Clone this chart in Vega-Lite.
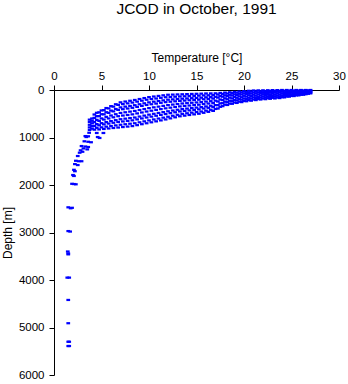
{
"$schema":"https://vega.github.io/schema/vega-lite/v6.json",
"width":285,"height":285,
"autosize":{"type":"none"},
"padding":{"left":54,"top":90,"right":9,"bottom":9},
"background":"white",
"title":{"text":"JCOD in October, 1991","font":"Liberation Sans","fontSize":15.5,"fontWeight":"normal","color":"black","anchor":"middle","offset":34},
"config":{"view":{"stroke":null},"axis":{"grid":false,"domainColor":"black","tickColor":"black","labelColor":"black","titleColor":"black","labelFont":"Liberation Sans","titleFont":"Liberation Sans","titleFontWeight":"normal","labelFontSize":11.5,"titleFontSize":12,"tickSize":5,"domainWidth":1,"tickWidth":1}},
"data":{"values":[
{"temp":27,"depth":0},{"temp":26.5,"depth":0},{"temp":26,"depth":0},{"temp":25.5,"depth":0},{"temp":25,"depth":0},{"temp":24.5,"depth":0},{"temp":24,"depth":0},{"temp":23.5,"depth":2},{"temp":23,"depth":3},{"temp":22.5,"depth":5},{"temp":22,"depth":7},{"temp":21.5,"depth":8},{"temp":21,"depth":10},{"temp":20.5,"depth":17},{"temp":20,"depth":25},{"temp":19.5,"depth":32},{"temp":19,"depth":40},{"temp":18.5,"depth":48},{"temp":18,"depth":55},{"temp":17.5,"depth":62},{"temp":17,"depth":70},{"temp":16.5,"depth":72},{"temp":16,"depth":73},{"temp":15.5,"depth":77},{"temp":15,"depth":80},{"temp":14.5,"depth":83},{"temp":14,"depth":87},{"temp":13.5,"depth":90},{"temp":13,"depth":93},{"temp":12.5,"depth":97},{"temp":12,"depth":100},{"temp":11.5,"depth":112},{"temp":11,"depth":125},{"temp":10.5,"depth":137},{"temp":10,"depth":150},{"temp":9.5,"depth":170},{"temp":9,"depth":190},{"temp":8.5,"depth":210},{"temp":8,"depth":227},{"temp":7.5,"depth":243},{"temp":7,"depth":260},{"temp":6.5,"depth":300},{"temp":6,"depth":340},{"temp":5.5,"depth":380},{"temp":5,"depth":430},{"temp":4.5,"depth":480},{"temp":4,"depth":600},
{"temp":26.75,"depth":8},{"temp":26.25,"depth":10},{"temp":25.75,"depth":11},{"temp":25.25,"depth":13},{"temp":24.75,"depth":14},{"temp":24.25,"depth":16},{"temp":23.75,"depth":17},{"temp":23.25,"depth":20},{"temp":22.75,"depth":21},{"temp":22.25,"depth":24},{"temp":21.75,"depth":26},{"temp":21.25,"depth":28},{"temp":20.75,"depth":32},{"temp":20.25,"depth":39},{"temp":19.75,"depth":48},{"temp":19.25,"depth":56},{"temp":18.75,"depth":65},{"temp":18.25,"depth":75},{"temp":17.75,"depth":83},{"temp":17.25,"depth":95},{"temp":16.75,"depth":107},{"temp":16.25,"depth":111},{"temp":15.75,"depth":114},{"temp":15.25,"depth":119},{"temp":14.75,"depth":123},{"temp":14.25,"depth":127},{"temp":13.75,"depth":132},{"temp":13.25,"depth":136},{"temp":12.75,"depth":141},{"temp":12.25,"depth":147},{"temp":11.75,"depth":152},{"temp":11.25,"depth":165},{"temp":10.75,"depth":179},{"temp":10.25,"depth":191},{"temp":9.75,"depth":205},{"temp":9.25,"depth":225},{"temp":8.75,"depth":245},{"temp":8.25,"depth":265},{"temp":7.75,"depth":281},{"temp":7.25,"depth":297},{"temp":6.75,"depth":313},{"temp":6.25,"depth":350},{"temp":5.75,"depth":387},{"temp":5.25,"depth":424},{"temp":4.75,"depth":470},{"temp":4.25,"depth":516},{"temp":3.75,"depth":624},
{"temp":27,"depth":16},{"temp":26.5,"depth":20},{"temp":26,"depth":23},{"temp":25.5,"depth":25},{"temp":25,"depth":28},{"temp":24.5,"depth":31},{"temp":24,"depth":34},{"temp":23.5,"depth":37},{"temp":23,"depth":39},{"temp":22.5,"depth":43},{"temp":22,"depth":46},{"temp":21.5,"depth":49},{"temp":21,"depth":53},{"temp":20.5,"depth":61},{"temp":20,"depth":71},{"temp":19.5,"depth":80},{"temp":19,"depth":90},{"temp":18.5,"depth":101},{"temp":18,"depth":112},{"temp":17.5,"depth":128},{"temp":17,"depth":144},{"temp":16.5,"depth":150},{"temp":16,"depth":154},{"temp":15.5,"depth":162},{"temp":15,"depth":167},{"temp":14.5,"depth":172},{"temp":14,"depth":178},{"temp":13.5,"depth":183},{"temp":13,"depth":189},{"temp":12.5,"depth":197},{"temp":12,"depth":204},{"temp":11.5,"depth":218},{"temp":11,"depth":232},{"temp":10.5,"depth":246},{"temp":10,"depth":260},{"temp":9.5,"depth":280},{"temp":9,"depth":300},{"temp":8.5,"depth":320},{"temp":8,"depth":336},{"temp":7.5,"depth":350},{"temp":7,"depth":366},{"temp":6.5,"depth":400},{"temp":6,"depth":434},{"temp":5.5,"depth":468},{"temp":5,"depth":510},{"temp":4.5,"depth":551},{"temp":4,"depth":648},
{"temp":26.75,"depth":24},{"temp":26.25,"depth":30},{"temp":25.75,"depth":34},{"temp":25.25,"depth":38},{"temp":24.75,"depth":42},{"temp":24.25,"depth":47},{"temp":23.75,"depth":51},{"temp":23.25,"depth":55},{"temp":22.75,"depth":58},{"temp":22.25,"depth":61},{"temp":21.75,"depth":65},{"temp":21.25,"depth":69},{"temp":20.75,"depth":75},{"temp":20.25,"depth":83},{"temp":19.75,"depth":94},{"temp":19.25,"depth":104},{"temp":18.75,"depth":115},{"temp":18.25,"depth":128},{"temp":17.75,"depth":141},{"temp":17.25,"depth":160},{"temp":16.75,"depth":181},{"temp":16.25,"depth":188},{"temp":15.75,"depth":195},{"temp":15.25,"depth":204},{"temp":14.75,"depth":210},{"temp":14.25,"depth":216},{"temp":13.75,"depth":223},{"temp":13.25,"depth":229},{"temp":12.75,"depth":238},{"temp":12.25,"depth":247},{"temp":11.75,"depth":256},{"temp":11.25,"depth":270},{"temp":10.75,"depth":286},{"temp":10.25,"depth":300},{"temp":9.75,"depth":315},{"temp":9.25,"depth":335},{"temp":8.75,"depth":355},{"temp":8.25,"depth":375},{"temp":7.75,"depth":390},{"temp":7.25,"depth":404},{"temp":6.75,"depth":419},{"temp":6.25,"depth":450},{"temp":5.75,"depth":481},{"temp":5.25,"depth":512},{"temp":4.75,"depth":550},{"temp":4.25,"depth":587},{"temp":3.75,"depth":672},
{"temp":27,"depth":34},{"temp":26.5,"depth":42},{"temp":26,"depth":47},{"temp":25.5,"depth":53},{"temp":25,"depth":59},{"temp":24.5,"depth":65},{"temp":24,"depth":71},{"temp":23.5,"depth":76},{"temp":23,"depth":79},{"temp":22.5,"depth":84},{"temp":22,"depth":88},{"temp":21.5,"depth":94},{"temp":21,"depth":100},{"temp":20.5,"depth":109},{"temp":20,"depth":122},{"temp":19.5,"depth":133},{"temp":19,"depth":145},{"temp":18.5,"depth":160},{"temp":18,"depth":175},{"temp":17.5,"depth":200},{"temp":17,"depth":225},{"temp":16.5,"depth":235},{"temp":16,"depth":244},{"temp":15.5,"depth":255},{"temp":15,"depth":262},{"temp":14.5,"depth":269},{"temp":14,"depth":277},{"temp":13.5,"depth":284},{"temp":13,"depth":295},{"temp":12.5,"depth":307},{"temp":12,"depth":318},{"temp":11.5,"depth":334},{"temp":11,"depth":350},{"temp":10.5,"depth":365},{"temp":10,"depth":381},{"temp":9.5,"depth":401},{"temp":9,"depth":421},{"temp":8.5,"depth":441},{"temp":8,"depth":455},{"temp":7.5,"depth":469},{"temp":7,"depth":483},{"temp":6.5,"depth":510},{"temp":6,"depth":537},{"temp":5.5,"depth":565},{"temp":5,"depth":598},{"temp":4.5,"depth":629},{"temp":4,"depth":701},
{"temp":26.75,"depth":44},{"temp":26.25,"depth":55},{"temp":25.75,"depth":62},{"temp":25.25,"depth":70},{"temp":24.75,"depth":77},{"temp":24.25,"depth":85},{"temp":23.75,"depth":94},{"temp":23.25,"depth":99},{"temp":22.75,"depth":103},{"temp":22.25,"depth":108},{"temp":21.75,"depth":113},{"temp":21.25,"depth":120},{"temp":20.75,"depth":128},{"temp":20.25,"depth":138},{"temp":19.75,"depth":152},{"temp":19.25,"depth":164},{"temp":18.75,"depth":178},{"temp":18.25,"depth":195},{"temp":17.75,"depth":212},{"temp":17.25,"depth":242},{"temp":16.75,"depth":274},{"temp":16.25,"depth":285},{"temp":15.75,"depth":297},{"temp":15.25,"depth":310},{"temp":14.75,"depth":318},{"temp":14.25,"depth":327},{"temp":13.75,"depth":336},{"temp":13.25,"depth":345},{"temp":12.75,"depth":358},{"temp":12.25,"depth":372},{"temp":11.75,"depth":386},{"temp":11.25,"depth":402},{"temp":10.75,"depth":419},{"temp":10.25,"depth":436},{"temp":9.75,"depth":453},{"temp":9.25,"depth":473},{"temp":8.75,"depth":493},{"temp":8.25,"depth":513},{"temp":7.75,"depth":526},{"temp":7.25,"depth":538},{"temp":6.75,"depth":552},{"temp":6.25,"depth":575},{"temp":5.75,"depth":599},{"temp":5.25,"depth":622},{"temp":4.75,"depth":650},{"temp":4.25,"depth":675},{"temp":3.75,"depth":732},
{"temp":27,"depth":54},{"temp":26.5,"depth":67},{"temp":26,"depth":76},{"temp":25.5,"depth":85},{"temp":25,"depth":94},{"temp":24.5,"depth":104},{"temp":24,"depth":114},{"temp":23.5,"depth":120},{"temp":23,"depth":125},{"temp":22.5,"depth":131},{"temp":22,"depth":136},{"temp":21.5,"depth":145},{"temp":21,"depth":154},{"temp":20.5,"depth":164},{"temp":20,"depth":179},{"temp":19.5,"depth":193},{"temp":19,"depth":208},{"temp":18.5,"depth":227},{"temp":18,"depth":246},{"temp":17.5,"depth":282},{"temp":17,"depth":318},{"temp":16.5,"depth":332},{"temp":16,"depth":346},{"temp":15.5,"depth":360},{"temp":15,"depth":370},{"temp":14.5,"depth":380},{"temp":14,"depth":391},{"temp":13.5,"depth":400},{"temp":13,"depth":416},{"temp":12.5,"depth":432},{"temp":12,"depth":448},{"temp":11.5,"depth":466},{"temp":11,"depth":483},{"temp":10.5,"depth":501},{"temp":10,"depth":519},{"temp":9.5,"depth":539},{"temp":9,"depth":559},{"temp":8.5,"depth":579},{"temp":8,"depth":591},{"temp":7.5,"depth":603},{"temp":7,"depth":615},{"temp":6.5,"depth":635},{"temp":6,"depth":655},{"temp":5.5,"depth":675},{"temp":5,"depth":698},{"temp":4.5,"depth":718},{"temp":4,"depth":761},
{"temp":26.75,"depth":62},{"temp":26.25,"depth":78},{"temp":25.75,"depth":88},{"temp":25.25,"depth":99},{"temp":24.75,"depth":109},{"temp":24.25,"depth":121},{"temp":23.75,"depth":133},{"temp":23.25,"depth":139},{"temp":22.75,"depth":145},{"temp":22.25,"depth":152},{"temp":21.75,"depth":158},{"temp":21.25,"depth":167},{"temp":20.75,"depth":178},{"temp":20.25,"depth":189},{"temp":19.75,"depth":204},{"temp":19.25,"depth":219},{"temp":18.75,"depth":235},{"temp":18.25,"depth":256},{"temp":17.75,"depth":277},{"temp":17.25,"depth":318},{"temp":16.75,"depth":359},{"temp":16.25,"depth":375},{"temp":15.75,"depth":390},{"temp":15.25,"depth":407},{"temp":14.75,"depth":418},{"temp":14.25,"depth":429},{"temp":13.75,"depth":440},{"temp":13.25,"depth":451},{"temp":12.75,"depth":469},{"temp":12.25,"depth":487},{"temp":11.75,"depth":506},{"temp":11.25,"depth":524},{"temp":10.75,"depth":542},{"temp":10.25,"depth":561},{"temp":9.75,"depth":579},{"temp":9.25,"depth":599},{"temp":8.75,"depth":619},{"temp":8.25,"depth":639},{"temp":7.75,"depth":651},{"temp":7.25,"depth":662},{"temp":6.75,"depth":673},{"temp":6.25,"depth":690},{"temp":5.75,"depth":707},{"temp":5.25,"depth":723},{"temp":4.75,"depth":742},{"temp":4.25,"depth":757},{"temp":3.75,"depth":787},
{"temp":27,"depth":71},{"temp":26.5,"depth":89},{"temp":26,"depth":101},{"temp":25.5,"depth":113},{"temp":25,"depth":125},{"temp":24.5,"depth":138},{"temp":24,"depth":151},{"temp":23.5,"depth":159},{"temp":23,"depth":165},{"temp":22.5,"depth":172},{"temp":22,"depth":179},{"temp":21.5,"depth":190},{"temp":21,"depth":201},{"temp":20.5,"depth":213},{"temp":20,"depth":230},{"temp":19.5,"depth":246},{"temp":19,"depth":263},{"temp":18.5,"depth":286},{"temp":18,"depth":309},{"temp":17.5,"depth":354},{"temp":17,"depth":399},{"temp":16.5,"depth":417},{"temp":16,"depth":435},{"temp":15.5,"depth":453},{"temp":15,"depth":465},{"temp":14.5,"depth":477},{"temp":14,"depth":490},{"temp":13.5,"depth":502},{"temp":13,"depth":522},{"temp":12.5,"depth":542},{"temp":12,"depth":563},{"temp":11.5,"depth":582},{"temp":11,"depth":601},{"temp":10.5,"depth":620},{"temp":10,"depth":640},{"temp":9.5,"depth":660},{"temp":9,"depth":680},{"temp":8.5,"depth":700},{"temp":8,"depth":710},{"temp":7.5,"depth":721},{"temp":7,"depth":732},{"temp":6.5,"depth":745},{"temp":6,"depth":758},{"temp":5.5,"depth":772},{"temp":5,"depth":786},{"temp":4.5,"depth":796},{"temp":4,"depth":814},
{"temp":26.75,"depth":80},{"temp":26.25,"depth":100},{"temp":25.75,"depth":113},{"temp":25.25,"depth":127},{"temp":24.75,"depth":140},{"temp":24.25,"depth":155},{"temp":23.75,"depth":170},{"temp":23.25,"depth":178},{"temp":22.75,"depth":185},{"temp":22.25,"depth":193},{"temp":21.75,"depth":200},{"temp":21.25,"depth":212},{"temp":20.75,"depth":225},{"temp":20.25,"depth":237},{"temp":19.75,"depth":255},{"temp":19.25,"depth":272},{"temp":18.75,"depth":290},{"temp":18.25,"depth":315},{"temp":17.75,"depth":340},{"temp":17.25,"depth":390},{"temp":16.75,"depth":440},{"temp":16.25,"depth":460},{"temp":15.75,"depth":480},{"temp":15.25,"depth":500},{"temp":14.75,"depth":513},{"temp":14.25,"depth":526},{"temp":13.75,"depth":540},{"temp":13.25,"depth":553},{"temp":12.75,"depth":575},{"temp":12.25,"depth":597},{"temp":11.75,"depth":620},{"temp":11.25,"depth":640},{"temp":10.75,"depth":660},{"temp":10.25,"depth":680},{"temp":9.75,"depth":700},{"temp":9.25,"depth":720},{"temp":8.75,"depth":740},{"temp":8.25,"depth":760},{"temp":7.75,"depth":770},{"temp":7.25,"depth":780},{"temp":6.75,"depth":790},{"temp":6.25,"depth":800},{"temp":5.75,"depth":810},{"temp":5.25,"depth":820},{"temp":4.75,"depth":830},{"temp":4.25,"depth":835},{"temp":3.75,"depth":840},
{"temp":3.7,"depth":900},{"temp":4.5,"depth":905},{"temp":5.2,"depth":905},{"temp":4.8,"depth":1010},{"temp":4.6,"depth":990},{"temp":3.4,"depth":990},{"temp":3.3,"depth":970},{"temp":3.6,"depth":975},{"temp":3.2,"depth":1080},{"temp":3.6,"depth":1090},{"temp":3.9,"depth":1100},{"temp":2.9,"depth":1180},{"temp":3.3,"depth":1190},{"temp":3.6,"depth":1200},{"temp":3.1,"depth":1230},{"temp":3.5,"depth":1250},{"temp":2.8,"depth":1270},{"temp":3.0,"depth":1300},{"temp":2.7,"depth":1320},{"temp":2.5,"depth":1390},{"temp":2.3,"depth":1490},{"temp":2.6,"depth":1500},{"temp":2.9,"depth":1500},{"temp":2.2,"depth":1560},{"temp":2.5,"depth":1580},{"temp":2.1,"depth":1680},{"temp":2.2,"depth":1710},{"temp":2.0,"depth":1790},{"temp":2.1,"depth":1810},{"temp":1.9,"depth":1975},{"temp":2.1,"depth":1980},{"temp":2.3,"depth":1985},{"temp":1.5,"depth":2470},{"temp":1.75,"depth":2490},{"temp":1.9,"depth":2480},{"temp":1.5,"depth":2970},{"temp":1.7,"depth":2980},{"temp":1.45,"depth":3400},{"temp":1.5,"depth":3440},{"temp":1.5,"depth":3460},{"temp":1.4,"depth":3950},{"temp":1.6,"depth":3950},{"temp":1.5,"depth":4420},{"temp":1.5,"depth":4910},{"temp":1.5,"depth":5300},{"temp":1.6,"depth":5300},{"temp":1.5,"depth":5390},{"temp":1.6,"depth":5390}
]},
"mark":{"type":"point","shape":"M-1,-0.6H1V0.6H-1Z","filled":true,"size":14,"color":"#0000ff","opacity":1,"strokeWidth":0},
"encoding":{
"x":{"field":"temp","type":"quantitative","scale":{"domain":[0,30],"nice":false,"zero":false},"axis":{"orient":"top","values":[0,5,10,15,20,25,30],"title":"Temperature [°C]","labelPadding":4,"titlePadding":6,"labelFlush":false}},
"y":{"field":"depth","type":"quantitative","scale":{"domain":[0,6000],"reverse":true,"nice":false,"zero":false},"axis":{"values":[0,1000,2000,3000,4000,5000,6000],"title":"Depth [m]","format":"d","labelPadding":5,"titlePadding":4,"labelFlush":false}}
}
}
